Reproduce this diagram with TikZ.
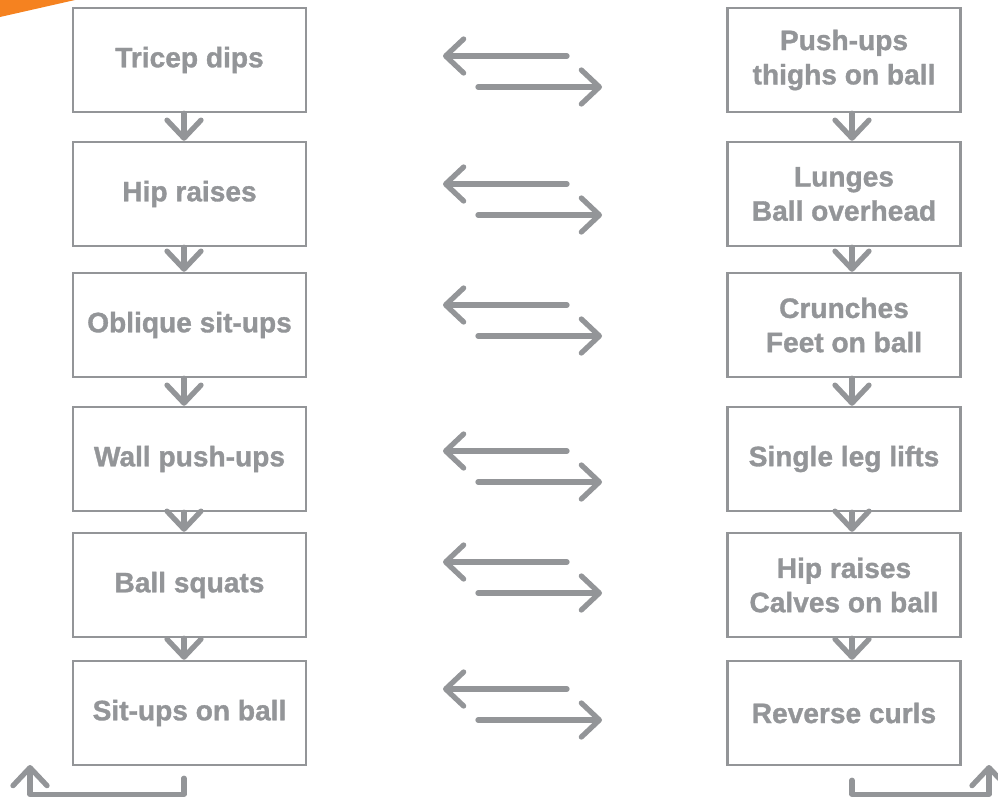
\documentclass[tikz,border=0pt]{standalone}
\usepackage{fontspec}
\setmainfont[BoldFeatures={FakeBold=1.2}]{Liberation Sans}
\usepackage{tikz}
\usetikzlibrary{arrows.meta}
\definecolor{exgray}{HTML}{939598}
\definecolor{exorange}{HTML}{F58220}
\tikzstyle{exbox} = [draw=exgray, line width=1.4pt, minimum width=4.66cm, minimum height=2.08cm, align=center, text=exgray, font=\fontsize{16}{19.5}\selectfont\bfseries]
\tikzstyle{arrow} = [exgray, line width=3pt, line cap=round, line join=round, -{Straight Barb[length=0.36cm,width=0.68cm,round]}]

\begin{document}
\begin{tikzpicture}[x=0.02cm,y=-0.02cm]
\useasboundingbox (0,0) rectangle (998,798);

% Corner mark:
\fill[exorange] (0,0) -- (75,0) -- (0,17) -- cycle;

% Left column of exercises:
\foreach \n/\y/\txt in {1/60/{Tricep dips},2/194/{Hip raises},3/325/{Oblique sit-ups},4/459/{Wall push-ups},5/585/{Ball squats},6/713/{Sit-ups on ball}}{%
	\node[exbox] (l\n) at (189.5,\y) {\txt};
}

% Right column of exercises:
\foreach \n/\y/\txt in {1/60/{Push-ups\\thighs on ball},2/194/{Lunges\\Ball overhead},3/325/{Crunches\\Feet on ball},4/459/{Single leg lifts},5/585/{Hip raises\\Calves on ball},6/713/{Reverse curls}}{%
	\node[exbox] (r\n) at (844,\y) {\txt};
}

% Arrows down each column:
\foreach \n in {1,...,5}{%
	\pgfmathtruncatemacro\m{\n+1}
	\draw[arrow] ([xshift=-0.11cm]l\n.south) -- ([xshift=-0.11cm]l\m.north);
	\draw[arrow] ([xshift=0.16cm]r\n.south) -- ([xshift=0.16cm]r\m.north);
}

% Swap arrows between the columns:
\foreach \n/\y in {1/56,2/184,3/305,4/451,5/562,6/689}{%
	\coordinate (a\n) at (567,\y);
	\coordinate (b\n) at (443,\y);
	\coordinate (c\n) at (478,\y+31);
	\coordinate (d\n) at (602,\y+31);
	\draw[arrow] (a\n) -- (b\n);
	\draw[arrow] (c\n) -- (d\n);
}

% Return arrows at the bottom:
\coordinate (retl) at (30,765);
\coordinate (retr) at (989,765);
\draw[arrow] ([xshift=-0.11cm,yshift=-0.24cm]l6.south) -- ++(0,16) -| (retl);
\draw[arrow] ([xshift=0.16cm,yshift=-0.28cm]r6.south) -- ++(0,14) -| (retr);
\end{tikzpicture}
\end{document}
